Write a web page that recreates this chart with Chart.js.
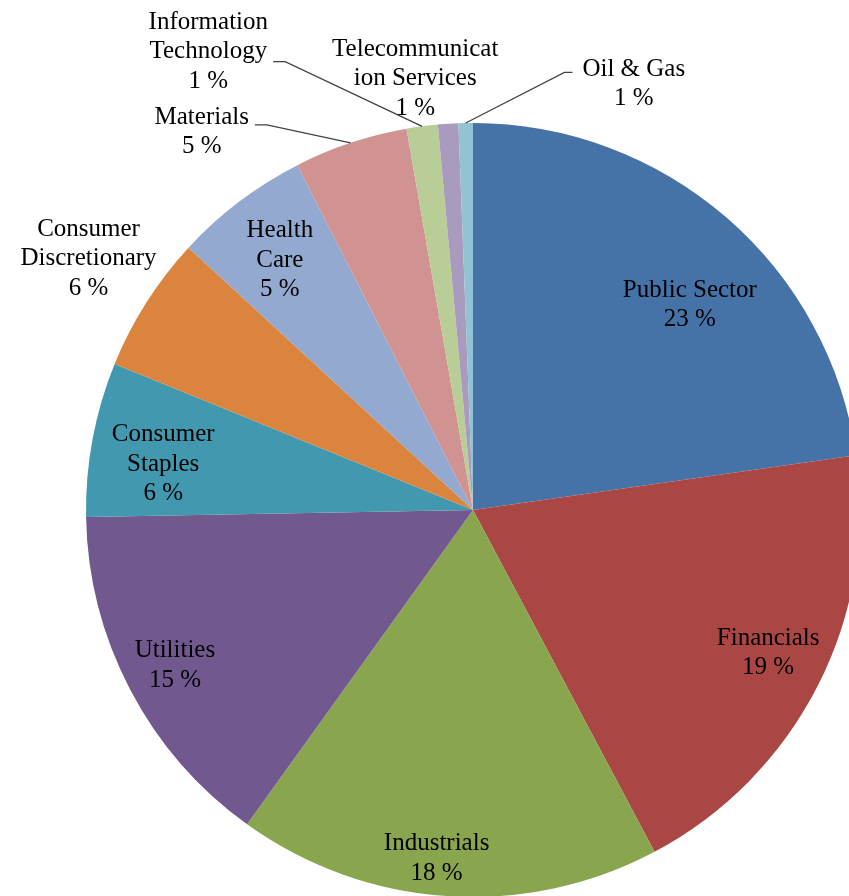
<!DOCTYPE html>
<html>
<head>
<meta charset="utf-8">
<script src="https://cdn.jsdelivr.net/npm/chart.js@4.4.0/dist/chart.umd.min.js"></script>
<style>
  html, body { margin: 0; padding: 0; background: #fff; overflow: hidden; }
  #wrap { width: 900px; height: 900px; }
</style>
</head>
<body>
<div id="wrap"><canvas id="pie" width="900" height="900"></canvas></div>
<script>
// sectors, clockwise from 12 o'clock
const sectors = ['Public Sector', 'Financials', 'Industrials', 'Utilities', 'Consumer Staples',
    'Consumer Discretionary', 'Health Care', 'Materials', 'Information Technology',
    'Telecommunication Services', 'Oil & Gas'];
const shares = [22.75, 19.5, 17.7, 14.8, 6.45, 5.7, 5.65, 4.75, 1.3, 0.85, 0.6];
const shareLabels = ['23 %', '19 %', '18 %', '15 %', '6 %', '6 %', '5 %', '5 %', '1 %', '1 %', '1 %'];
const colors = ['#4572A7', '#AA4643', '#89A54E', '#71588F', '#4198AF', '#DB843D',
    '#93A9CF', '#D19392', '#B9CD96', '#A99BBD', '#91C3D5'];

// how the names wrap, as in the original
const nameLines = [['Public Sector'], ['Financials'], ['Industrials'], ['Utilities'],
    ['Consumer', 'Staples'], ['Consumer', 'Discretionary'], ['Health', 'Care'], ['Materials'],
    ['Information', 'Technology'], ['Telecommunicat', 'ion Services'], ['Oil & Gas']];

// label anchor: angle (deg, clockwise from top) and distance as a fraction of the radius
const labelPos = [[46.3, 0.775], [115.5, 0.845], [186, 0.9], [242.8, 0.866], [278.8, 0.81],
    [303.4, 1.19], [322.5, 0.82], [324.5, 1.207], [330.1, 1.372], [352.4, 1.129], [20.6, 1.181]];

// leader lines: which text line, from which side
const leaders = {
    7: { line: 0, side: 'right', dy: 10 },
    8: { line: 1, side: 'right', dy: 12 },
    10: { line: 0, side: 'left', dy: 5 }
};

const FONT = '25px "Liberation Serif", "Times New Roman", serif';
const LINE_H = 29.5;

const pieLabels = {
    id: 'pieLabels',
    afterDatasetsDraw(chart) {
        const ctx = chart.ctx;
        const meta = chart.getDatasetMeta(0);
        ctx.save();
        ctx.font = FONT;
        ctx.fillStyle = '#000';
        ctx.textAlign = 'center';
        ctx.textBaseline = 'middle';
        meta.data.forEach((arc, i) => {
            const cx = arc.x, cy = arc.y, R = arc.outerRadius;
            const a = labelPos[i][0] * Math.PI / 180 - Math.PI / 2;
            const x = cx + Math.cos(a) * R * labelPos[i][1];
            const y = cy + Math.sin(a) * R * labelPos[i][1];
            const lines = nameLines[i].concat([shareLabels[i]]);
            const top = y - (lines.length - 1) * LINE_H / 2;
            lines.forEach((t, k) => ctx.fillText(t, x, top + k * LINE_H + 2));

            const ld = leaders[i];
            if (ld) {
                const w = ctx.measureText(lines[ld.line]).width;
                const ly = top + ld.line * LINE_H + ld.dy;
                const mid = (arc.startAngle + arc.endAngle) / 2;
                const ex = cx + Math.cos(mid) * R, ey = cy + Math.sin(mid) * R;
                let sx, kx;
                if (ld.side === 'right') { sx = x + w / 2 + 6; kx = sx + 12; }
                else { sx = x - w / 2 - 10; kx = sx - 8; }
                ctx.beginPath();
                ctx.strokeStyle = '#404040';
                ctx.lineWidth = 1.2;
                ctx.moveTo(sx, ly);
                ctx.lineTo(kx, ly);
                ctx.lineTo(ex, ey);
                ctx.stroke();
            }
        });
        ctx.restore();
    }
};

new Chart(document.getElementById('pie'), {
    type: 'pie',
    data: {
        labels: sectors,
        datasets: [{
            data: shares,
            backgroundColor: colors,
            borderWidth: 0
        }]
    },
    options: {
        responsive: false,
        animation: false,
        layout: { padding: { left: 86, right: 40, top: 123, bottom: 3 } },
        plugins: {
            legend: { display: false },
            tooltip: { enabled: false }
        }
    },
    plugins: [pieLabels]
});
</script>
</body>
</html>
